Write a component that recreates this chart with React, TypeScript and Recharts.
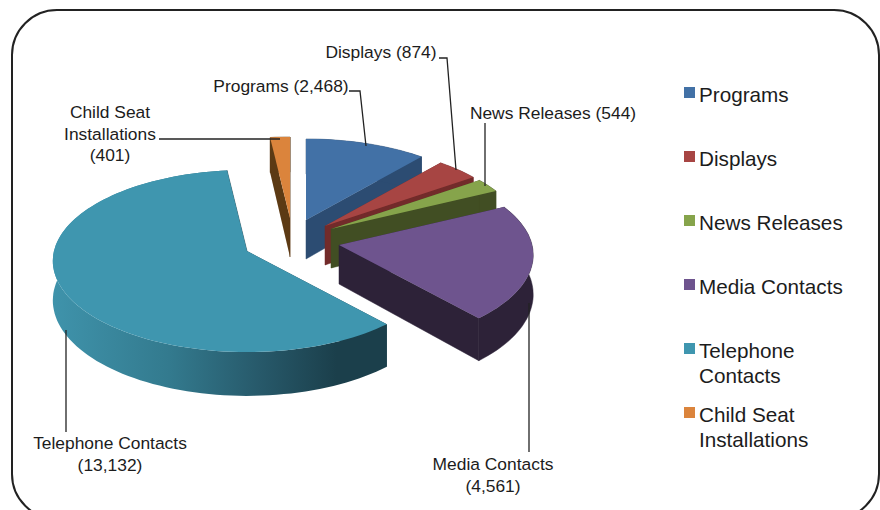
import React from "react";
import { PieChart, Pie, Legend } from "recharts";

const categories = ["Programs", "Displays", "News Releases", "Media Contacts", "Telephone Contacts", "Child Seat Installations"];
const values = [2468, 874, 544, 4561, 13132, 401];

// slice colours
const topColors = ["#4271a6", "#a74543", "#86a44b", "#6e548e", "#3f96af", "#db843c"];
const wallColors = ["#2c4c72", "#722b2a", "#414e23", "#2d2238", "#1b3f4b", "#5c3a14"];

// how far each slice is pulled out of the pie
const explode = [[11, -15], [30, -9], [36, -6], [44, 10], [-48, 16], [-5, -17]];

const labelLines = [
  { text: ["Programs (2,468)"], x: 281, y: 92, path: "M349 91 H360 L366 146" },
  { text: ["Displays (874)"], x: 381, y: 58, path: "M439 58 H447 L456 170" },
  { text: ["News Releases (544)"], x: 553, y: 119, path: "M485 123 V186" },
  { text: ["Media Contacts", "(4,561)"], x: 493, y: 470, path: "M529 303 V452" },
  { text: ["Telephone Contacts", "(13,132)"], x: 110, y: 449, path: "M66 330 V432" },
  { text: ["Child Seat", "Installations", "(401)"], x: 110, y: 118, path: "M159 139 H280" },
];

const data = categories.map((name, i) => ({ name, value: values[i], fill: topColors[i] }));

const SQUASH = 0.466;
const PERSPECTIVE = 0.11;
const DEPTH = 39;
const FONT = '"Liberation Sans", Arial, sans-serif';

function rimPoint(deg: number, ox: number, oy: number, r: number) {
  const t = (deg * Math.PI) / 180;
  const s = 1 / (1 + PERSPECTIVE * Math.cos(t));
  // third value is the wall height at this point, nearer means taller
  return [ox + r * Math.sin(t) * s, oy - r * SQUASH * Math.cos(t) * s, DEPTH * s];
}

const toPath = (pts: number[][]) =>
  "M" + pts.map((p) => p[0].toFixed(1) + " " + p[1].toFixed(1)).join("L") + "Z";

function Slice3D(props: any) {
  const { cx, cy, outerRadius, startAngle, endAngle, index } = props;
  const ox = cx + explode[index][0];
  const oy = cy + explode[index][1];
  const from = 90 - startAngle;
  const to = 90 - endAngle;
  const rim: number[][] = [];
  const n = Math.max(2, Math.ceil((to - from) / 2));
  for (let i = 0; i <= n; i++) rim.push(rimPoint(from + ((to - from) * i) / n, ox, oy, outerRadius));
  const down = (p: number[]) => [p[0], p[1] + p[2]];
  const apex = [ox, oy, DEPTH];
  const first = rim[0];
  const last = rim[rim.length - 1];
  const gradId = "rim-" + index;
  const wall = wallColors[index];
  // telephone wall fades across its width, the rest are flat
  const rimFill = index === 4 ? `url(#${gradId})` : wall;
  return (
    <g>
      {index === 4 && (
        <defs>
          <linearGradient id={gradId} x1="0" y1="0" x2="1" y2="0">
            <stop offset="0" stopColor="#3f93ab" />
            <stop offset="0.35" stopColor="#337a8e" />
            <stop offset="0.62" stopColor="#27596a" />
            <stop offset="0.85" stopColor="#1b3f4b" />
            <stop offset="1" stopColor="#1b3f4b" />
          </linearGradient>
        </defs>
      )}
      <path d={toPath([apex, first, down(first), down(apex)])} fill={wall} />
      <path d={toPath([apex, last, down(last), down(apex)])} fill={wall} stroke={wall} strokeWidth={0.5} />
      <path d={toPath([...rim, ...rim.map(down).reverse()])} fill={rimFill} stroke={index === 4 ? "none" : wall} strokeWidth={0.5} />
      <path d={toPath([apex, ...rim])} fill={props.fill} />
    </g>
  );
}

function SliceLabel(props: any) {
  const item = labelLines[props.index];
  return (
    <g>
      <path d={item.path} fill="none" stroke="#222" strokeWidth={1.3} />
      <text x={item.x} y={item.y} textAnchor="middle" fontFamily={FONT} fontSize={17.4} fill="#1c1c1c">
        {item.text.map((line, i) => (
          <tspan key={line} x={item.x} dy={i === 0 ? 0 : 21.5}>
            {line}
          </tspan>
        ))}
      </text>
    </g>
  );
}

function LegendList({ payload }: any) {
  return (
    <div style={{ fontFamily: FONT, fontSize: 20.7, lineHeight: "24.5px", color: "#1c1c1c" }}>
      {(payload || []).map((entry: any) => (
        <div key={entry.value} style={{ height: 64, position: "relative", paddingLeft: 15, width: 150 }}>
          <span style={{ position: "absolute", left: 0, top: 4, width: 11, height: 11, background: entry.color }} />
          <div>{entry.value}</div>
        </div>
      ))}
    </div>
  );
}

export default function App() {
  return (
    <div style={{ position: "fixed", left: 0, top: 0, width: 880, height: 510, overflow: "hidden", background: "#fff" }}>
      <div
        style={{
          position: "absolute",
          left: 11,
          top: 9,
          width: 865,
          height: 507,
          border: "2.5px solid #222",
          borderRadius: 46,
        }}
      />
      <PieChart width={880} height={510} margin={{ top: 0, right: 0, bottom: 0, left: 0 }} style={{ position: "absolute", left: 0, top: 0 }}>
        <Pie
          data={data}
          dataKey="value"
          nameKey="name"
          cx={295}
          cy={235}
          outerRadius={193}
          startAngle={90}
          endAngle={-270}
          stroke="none"
          shape={Slice3D}
          label={SliceLabel}
          labelLine={false}
          isAnimationActive={false}
        />
        <Legend
          layout="vertical"
          align="center"
          verticalAlign="middle"
          itemSorter={null}
          content={LegendList}
          wrapperStyle={{ left: 684, top: 83, bottom: "auto", right: "auto", width: 190 }}
        />
      </PieChart>
    </div>
  );
}
